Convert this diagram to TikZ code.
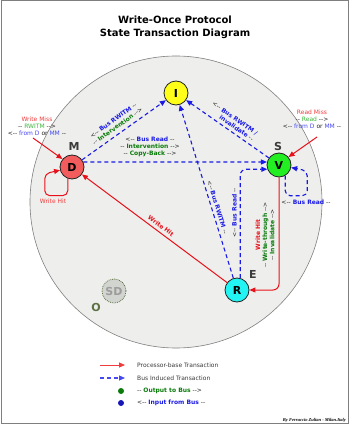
\documentclass[tikz,border=0pt]{standalone}
\usepackage{fontspec}
\setmainfont{DejaVu Sans}[Ligatures=TeXOff]
\newfontfamily\creditfont{Liberation Serif}[Ligatures=TeXOff]
\usetikzlibrary{arrows.meta,positioning,calc}
\definecolor{woInk}  {HTML}{222222}
\definecolor{woSlate}{HTML}{3A3A3A}
\definecolor{woFrame}{HTML}{7F7F7F}
\definecolor{woDisc} {HTML}{EEEFEC}
\definecolor{woRed}  {HTML}{E8101A}
\definecolor{woRose} {HTML}{F03C3C}
\definecolor{woBlue} {HTML}{1A1AE6}
\definecolor{woSky}  {HTML}{4848F0}
\definecolor{woGreen}{HTML}{0A7A0A}
\definecolor{woLime} {HTML}{3CB43C}
\definecolor{woOlive}{HTML}{5C7244}
\definecolor{stD}{HTML}{F25C5C}
\definecolor{stI}{HTML}{FFFF1A}
\definecolor{stV}{HTML}{22EE22}
\definecolor{stR}{HTML}{22F4F4}
\definecolor{stSD}{HTML}{D2D4D0}
\newcommand{\busin}[1]{\textbf{\color{woBlue}#1}}
\newcommand{\busout}[1]{\textbf{\color{woGreen}#1}}
\newcommand{\pin}[1]{{\color{woSky}#1}}
\newcommand{\pout}[1]{{\color{woLime}#1}}

\tikzset{
  state/.style={circle,draw=woInk,line width=0.8pt,minimum size=24pt,inner sep=0pt,
                font=\bfseries\fontsize{11}{11}\selectfont},
  tag/.style={font=\bfseries\fontsize{11}{11}\selectfont,text=woSlate},
  lbl/.style={font=\fontsize{6}{7.2}\selectfont,text=woInk,inner sep=1pt},
  procline/.style={woRed,line width=1pt,-{Triangle[length=6pt,width=5pt]}},
  busline/.style={woBlue,line width=1.1pt,dash pattern=on 4pt off 3pt,
                  -{Triangle[length=6pt,width=5pt]}},
}

\begin{document}
\begin{tikzpicture}[x=1pt,y=-1pt,font=\scriptsize]
    \useasboundingbox (0,0) rectangle (350,425);
    \draw[woFrame,line width=1pt] (1,1) rectangle (348,423);
    \node[font=\bfseries\fontsize{10}{13}\selectfont,align=center] (title) at (175,27)
      {Write-Once Protocol\\State Transaction Diagram};
    \draw[woFrame,fill=woDisc,line width=0.6pt] (176,202) circle[radius=146];

    % states
    \node[state,fill=stI] (I) at (176,93) {I};
    \node[state,fill=stD] (D) at (72,167) {D};
    \node[state,fill=stV] (V) at (279,165) {V};
    \node[state,fill=stR] (R) at (237,290) {R};
    \node[state,fill=stSD,draw=woOlive,densely dotted,text=woInk!45] (SD) at (114,291) {SD};
    \node[tag] (M) at (74,146) {M};
    \node[tag] (S) at (278,146) {S};
    \node[tag] (E) at (253,274) {E};
    \node[tag,text=woOlive] (O) at (96,307) {O};

    % bus induced transactions
    \draw[busline] (D) -- (I)
      node[lbl,sloped,above=3pt,pos=0.47,align=center]
      {<-- \busin{Bus RWITM} --\\-- \busout{Intervention} -->};
    \draw[busline] (D.24) -- (V.166);
    \node[lbl,align=center] (dvlbl) at (150,147)
      {<-- \busin{Bus Read} --\\-- \busout{Intervention} -->\\-- \busout{Copy-Back} -->};
    \draw[busline] (V) -- (I)
      node[lbl,sloped,above=2pt,pos=0.5,align=right]
      {<-- \busin{Bus RWITM /}\\\busin{invalidate} --};
    \draw[busline] (R) -- (I)
      node[lbl,sloped,above=2pt,pos=0.4] {<-- \busin{Bus RWITM} --};
    \draw[busline,rounded corners=6pt] (R.75) |- (V.200)
      node[lbl,sloped,above=2pt,pos=0.3] {<-- \busin{Bus Read} --};
    \draw[busline,rounded corners=5pt] (V.-60) -- ++(0,20) -- ++(22,0) -- ++(0,-25) -- (V.-12);
    \node[lbl] (vlbl) at (306,202) {<-- \busin{Bus Read} --};

    % processor transactions
    \draw[procline,rounded corners=6pt] (V.south) |- (R.east);
    \node[lbl,rotate=90,align=center] (vrlbl) at (265,235)
      {\textbf{\color{woRed}Write Hit}\\-- \busout{Write-through} -->\\-- \busout{Invalidate} -->};
    \draw[procline] (R) -- (D)
      node[lbl,sloped,above=2pt,pos=0.48] {\textbf{\color{woRed}Write Hit}};
    \draw[procline,rounded corners=5pt] (D.-110) -- ++(0,17) -- ++(-23,0) -- ++(0,-22) -- (D.-165);
    \node[lbl,text=woRose] (dlbl) at (53,201) {Write Hit};
    \coordinate (wm) at (33,138);
    \draw[procline] (wm) -- (D.140);
    \node[lbl,align=center] (wmlbl) at (37,126)
      {{\color{woRose}Write Miss}\\-- \pout{RWITM} -->\\<-- \pin{from D} or \pin{MM} --};
    \coordinate (rm) at (317,137);
    \draw[procline] (rm) -- (V.40);
    \node[lbl,align=center] (rmlbl) at (312,119)
      {{\color{woRose}Read Miss}\\-- \pout{Read} -->\\<-- \pin{from D} or \pin{MM} --};

    % legend
    \coordinate (lgp) at (100,365);
    \node[lbl,anchor=west,text=woSlate] (lgproc) at (136,365) {Processor-base Transaction};
    \draw[procline,woRose] (lgp) -- ++(25,0);
    \coordinate (lgb) at (100,378);
    \node[lbl,anchor=west,text=woSlate] (lgbus) at (136,378) {Bus Induced Transaction};
    \draw[busline,woSky] (lgb) -- ++(25,0);
    \node[circle,fill=woGreen,minimum size=6pt,inner sep=0pt] (gdot) at (121,391) {};
    \node[lbl,anchor=west] (lgout) at (136,391) {-- \busout{Output to Bus} -->};
    \node[circle,fill=woBlue!80!black,minimum size=6pt,inner sep=0pt] (bdot) at (121,403) {};
    \node[lbl,anchor=west] (lgin) at (136,403) {<-- \busin{Input from Bus} --};
    \node[font=\creditfont\bfseries\itshape\fontsize{4.5}{5}\selectfont,anchor=east,inner sep=0pt]
      (credit) at (346,420) {By Ferruccio Zulian - Milan.Italy};
\end{tikzpicture}
\end{document}
